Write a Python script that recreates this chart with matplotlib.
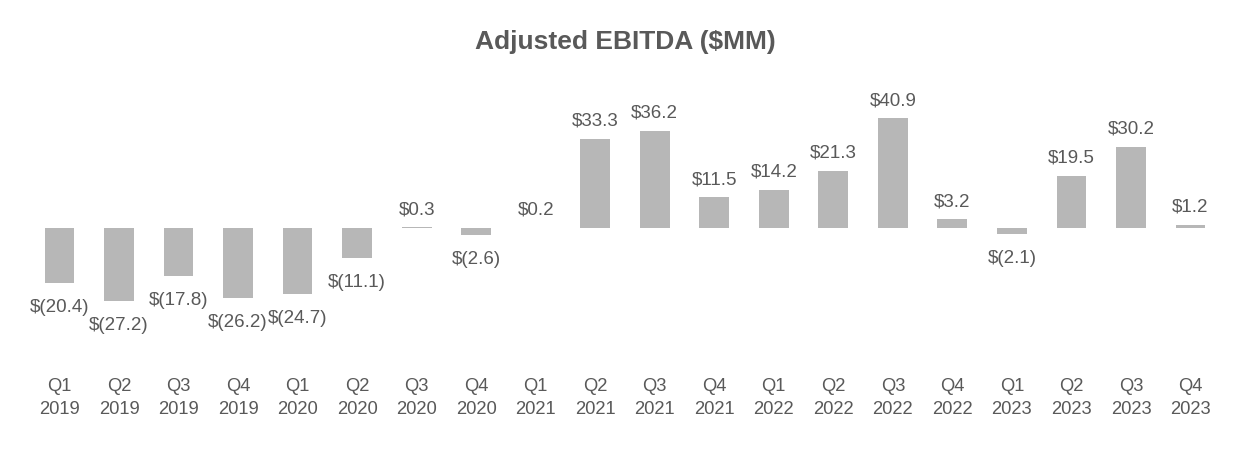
import matplotlib.pyplot as plt
import numpy as np

plt.rcParams['font.family'] = ['Liberation Sans', 'DejaVu Sans']

quarters = ['Q1', 'Q2', 'Q3', 'Q4'] * 5
years = ['2019'] * 4 + ['2020'] * 4 + ['2021'] * 4 + ['2022'] * 4 + ['2023'] * 4
ebitda = [-20.4, -27.2, -17.8, -26.2, -24.7, -11.1, 0.3, -2.6,
          0.2, 33.3, 36.2, 11.5, 14.2, 21.3, 40.9, 3.2,
          -2.1, 19.5, 30.2, 1.2]

bar_color = '#b7b7b7'
text_color = '#595959'

fig = plt.figure(figsize=(12.5, 4.5), dpi=100)
ax = fig.add_axes([0, 80 / 450, 1, 310 / 450])

x = np.arange(len(ebitda))
ax.bar(x, ebitda, width=0.5, color=bar_color)

# value labels
for xi, v in zip(x, ebitda):
    if v >= 0:
        lbl = f'${v:.1f}'
        ax.annotate(lbl, (xi, v), xytext=(0, 9), textcoords='offset pixels',
                    ha='center', va='bottom', fontsize=13.5, color=text_color)
    else:
        lbl = f'$({abs(v):.1f})'
        ax.annotate(lbl, (xi, v), xytext=(0, -16), textcoords='offset pixels',
                    ha='center', va='top', fontsize=13.5, color=text_color)

ax.set_xlim(-1.0, 20.0)
ax.set_ylim(-52.8, 62.5)
ax.set_xticks(x)
ax.set_xticklabels([f'{q}\n{y}' for q, y in zip(quarters, years)],
                   fontsize=13.2, color=text_color, linespacing=1.45)
ax.tick_params(axis='x', length=0, pad=6)
ax.set_yticks([])
for s in ax.spines.values():
    s.set_visible(False)

fig.text(0.5, 1 - 42 / 450, 'Adjusted EBITDA ($MM)', ha='center', va='center',
         fontsize=19, fontweight='bold', color=text_color)

fig.savefig('out.png', dpi=100, facecolor='white')
